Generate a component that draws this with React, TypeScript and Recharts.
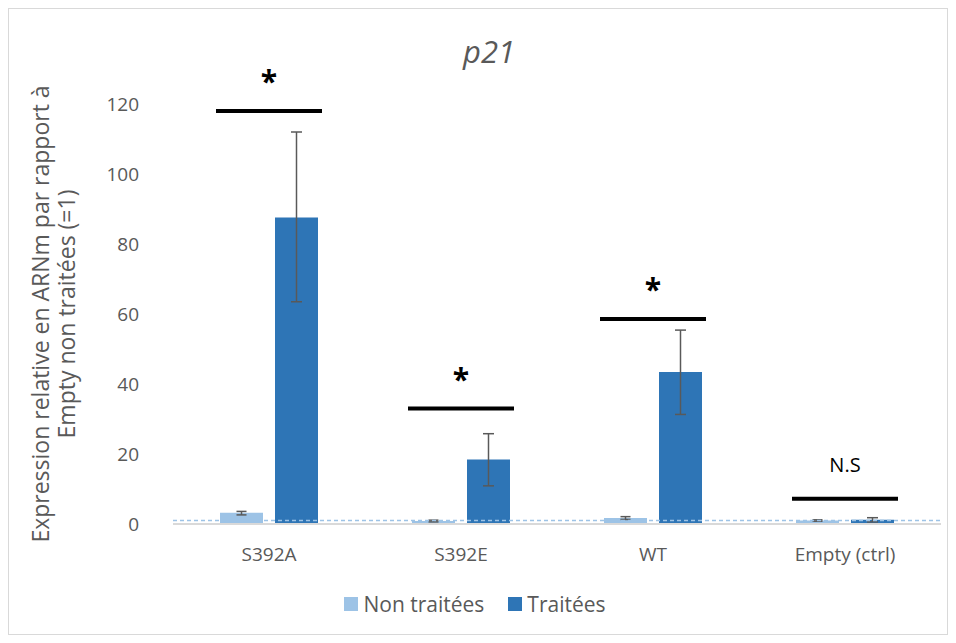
import React from 'react'
import {
  BarChart,
  Bar,
  XAxis,
  YAxis,
  ErrorBar,
  Legend,
  ReferenceLine,
  ReferenceDot,
  Customized,
} from 'recharts'

// valeurs (expression relative, Empty non traitées = 1)
const categories = ['S392A', 'S392E', 'WT', 'Empty (ctrl)']
const nonTraitees = [3.2, 0.85, 1.7, 1.0]
const nonTraiteesErr = [[0.6, 0.4], [0.25, 0.25], [0.4, 0.4], [0.2, 0.2]]
const traitees = [87.6, 18.4, 43.4, 1.2]
const traiteesErr = [[24.1, 24.4], [7.5, 7.4], [12.1, 12.0], [0.6, 0.6]]
const sigLevels = [118, 33, 58.6, 7.2]
const sigLabels = ['*', '*', '*', 'N.S']
const yTicks = [0, 20, 40, 60, 80, 100, 120]

const LIGHT = '#9DC3E6'
const DARK = '#2E75B6'
const TEXT = '#595959'
const FONT = '"Open Sans", "Liberation Sans", sans-serif'

const chartData = categories.map((name, i) => ({
  name,
  non: nonTraitees[i],
  nonErr: nonTraiteesErr[i],
  trt: traitees[i],
  trtErr: traiteesErr[i],
}))

function SigMark({ cx, cy, label }: { cx?: number; cy?: number; label: string }) {
  if (cx == null || cy == null) return null
  const star = label === '*'
  return (
    <g>
      <line x1={cx - 53} x2={cx + 53} y1={cy} y2={cy} stroke="#000" strokeWidth={4} />
      <text
        x={cx}
        y={star ? cy - 19 : cy - 27}
        textAnchor="middle"
        fontFamily={FONT}
        fontSize={star ? 30 : 20}
        fontWeight={star ? 700 : 400}
        fill="#000"
      >
        {label}
      </text>
    </g>
  )
}

function YLabel({ viewBox }: any) {
  const cy = viewBox.y + viewBox.height / 2
  return (
    <g fontFamily={FONT} fontSize={23} fill={TEXT}>
      <text x={31} y={cy} textAnchor="middle" dominantBaseline="central" transform={`rotate(-90 31 ${cy})`}>
        Expression relative en ARNm par rapport à
      </text>
      <text x={57} y={cy} textAnchor="middle" dominantBaseline="central" transform={`rotate(-90 57 ${cy})`}>
        Empty non traitées (=1)
      </text>
    </g>
  )
}

function Title() {
  return (
    <text x={480} y={54} textAnchor="middle" fontFamily={FONT} fontSize={31} fontStyle="italic" fill={TEXT}>
      p21
    </text>
  )
}

function LegendContent() {
  const items = [
    { label: 'Non traitées', color: LIGHT },
    { label: 'Traitées', color: DARK },
  ]
  return (
    <div style={{ display: 'flex', justifyContent: 'center', gap: 24, fontFamily: FONT, fontSize: 21, color: TEXT }}>
      {items.map((it) => (
        <div key={it.label} style={{ display: 'flex', alignItems: 'center', gap: 5 }}>
          <span style={{ width: 14, height: 14, background: it.color, display: 'inline-block' }} />
          <span>{it.label}</span>
        </div>
      ))}
    </div>
  )
}

export default function App() {
  return (
    <div style={{ width: 938, height: 625, border: '1px solid #d9d9d9', background: '#fff' }}>
      <BarChart
        width={938}
        height={625}
        data={chartData}
        margin={{ top: 95, right: 6, left: 0, bottom: 16 }}
        barCategoryGap={47}
        barGap={12}
      >
        <Customized component={<Title />} />
        <XAxis
          dataKey="name"
          height={66}
          axisLine={{ stroke: '#d9d9d9', strokeWidth: 2 }}
          tickLine={false}
          tickMargin={18}
          tick={{ fontFamily: FONT, fontSize: 19, fill: TEXT }}
        />
        <YAxis
          width={164}
          domain={[0, 120]}
          ticks={yTicks}
          axisLine={false}
          tickLine={false}
          tickSize={0}
          tickMargin={34}
          tick={{ fontFamily: FONT, fontSize: 19, fill: TEXT }}
          label={<YLabel />}
        />
        <Legend verticalAlign="bottom" content={<LegendContent />} />
        <Bar dataKey="non" name="Non traitées" fill={LIGHT} isAnimationActive={false}>
          <ErrorBar dataKey="nonErr" width={5} stroke={TEXT} strokeWidth={1.5} />
        </Bar>
        <Bar dataKey="trt" name="Traitées" fill={DARK} isAnimationActive={false}>
          <ErrorBar dataKey="trtErr" width={5.5} stroke={TEXT} strokeWidth={1.5} />
        </Bar>
        <ReferenceLine y={1} stroke={LIGHT} strokeDasharray="4 3" strokeWidth={1.5} />
        {categories.map((c, i) => (
          <ReferenceDot
            key={c}
            x={c}
            y={sigLevels[i]}
            r={0}
            shape={(p: any) => <SigMark cx={p.cx} cy={p.cy} label={sigLabels[i]} />}
          />
        ))}
      </BarChart>
    </div>
  )
}
